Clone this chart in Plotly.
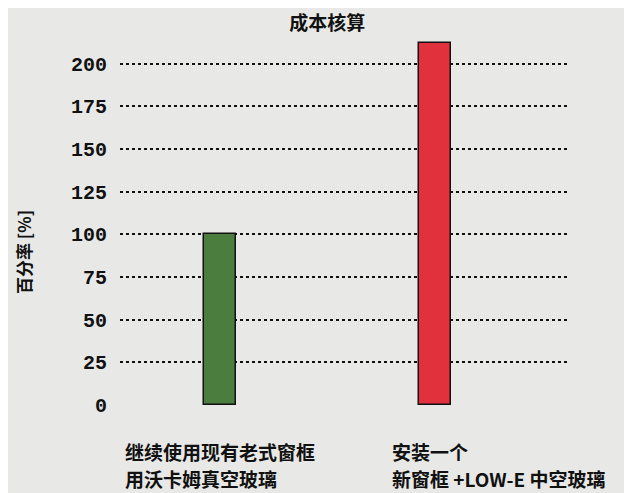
import plotly.graph_objects as go

categories = [
    ["继续使用现有老式窗框", "用沃卡姆真空玻璃"],
    ["安装一个", "新窗框 +LOW-E 中空玻璃"],
]
values = [100, 212]
colors = ["#4b7d3f", "#e0313d"]
y_ticks = [0, 25, 50, 75, 100, 125, 150, 175, 200]
y_title = "百分率 [%]"

x_pos = [0, 1]

fig = go.Figure()
fig.add_trace(go.Bar(
    x=x_pos, y=values, width=0.15,
    marker=dict(color=colors, line=dict(color="#111111", width=1.5)),
    hoverinfo="skip",
))

mono = "Liberation Mono, DejaVu Sans Mono, monospace"
cjk = "Noto Sans CJK SC, Liberation Mono, sans-serif"

label_x = [(115 - 112) / 448, (382 - 112) / 448]
line_y = [(397 - 443) / 367, (397 - 470) / 367]
for i, lines in enumerate(categories):
    for j, txt in enumerate(lines):
        fig.add_annotation(
            x=label_x[i], xref="paper", xanchor="left",
            y=line_y[j], yref="paper", yanchor="middle",
            text=txt, showarrow=False, align="left",
            font=dict(family=cjk, size=19, color="#111111", weight="bold"),
        )

fig.add_annotation(
    x=(16 - 112) / 448, xref="paper", xanchor="center",
    y=(397 - 244) / 367, yref="paper", yanchor="middle",
    text=y_title, textangle=-90, showarrow=False,
    font=dict(family=cjk, size=17, color="#111111", weight="bold"),
)

fig.update_layout(
    width=632, height=493,
    margin=dict(l=112, r=72, t=30, b=96),
    paper_bgcolor="#e8e9e7", plot_bgcolor="#e8e9e7",
    showlegend=False,
    bargap=0,
    title=dict(text="成本核算", x=0.505, xanchor="center", y=0.968, yanchor="middle",
               font=dict(family=cjk, size=19, color="#111111", weight="bold")),
    xaxis=dict(range=[-0.465, 1.618], showticklabels=False, showgrid=False,
               zeroline=False, showline=False, ticks=""),
    yaxis=dict(range=[0, 215], tickvals=y_ticks, ticktext=[str(v) for v in y_ticks],
               showgrid=True, gridcolor="#111111", gridwidth=2, griddash="dot",
               zeroline=False, showline=False, ticks="", ticklabelstandoff=12,
               tickfont=dict(family=mono, size=20, color="#111111", weight="bold")),
)

fig.write_html("out.html")
